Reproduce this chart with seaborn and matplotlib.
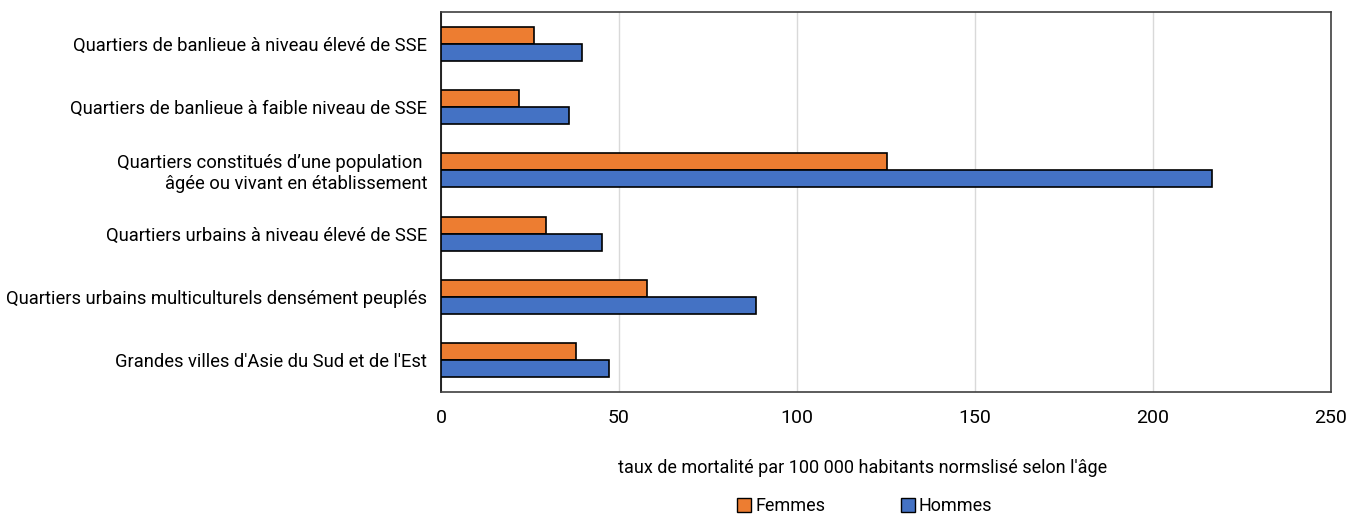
import matplotlib
matplotlib.use("Agg")
import matplotlib.pyplot as plt
import seaborn as sns
import pandas as pd
from matplotlib.patches import Patch

categories = [
    "Quartiers de banlieue à niveau élevé de SSE",
    "Quartiers de banlieue à faible niveau de SSE",
    "Quartiers constitués d’une population \nâgée ou vivant en établissement",
    "Quartiers urbains à niveau élevé de SSE",
    "Quartiers urbains multiculturels densément peuplés",
    "Grandes villes d'Asie du Sud et de l'Est",
]
femmes = [26.0, 21.8, 125.2, 29.4, 58.0, 37.9]
hommes = [39.5, 35.9, 216.6, 45.1, 88.4, 47.3]
series = ["Femmes", "Hommes"]
colors = ["#ED7D31", "#4472C4"]
xticks = [0, 50, 100, 150, 200, 250]
xlabel = "taux de mortalité par 100 000 habitants normslisé selon l'âge"

df = pd.DataFrame({
    "cat": categories * 2,
    "val": femmes + hommes,
    "sexe": [series[0]] * len(categories) + [series[1]] * len(categories),
})

sns.set_theme(style="white")
plt.rcParams["font.family"] = ["Roboto", "DejaVu Sans"]
plt.rcParams["text.color"] = "black"
plt.rcParams["xtick.color"] = "black"
plt.rcParams["ytick.color"] = "black"
plt.rcParams["axes.labelcolor"] = "black"

fig = plt.figure(figsize=(13.47, 5.16), dpi=100)
ax = fig.add_axes([0.3274, 0.2403, 0.6606, 0.7364])

sns.barplot(data=df, y="cat", x="val", hue="sexe", order=categories,
            hue_order=series, palette=colors, orient="h", width=0.54,
            saturation=1, edgecolor="black", linewidth=1.2, ax=ax,
            legend=False, zorder=3)

ax.set_xlim(0, 250)
ax.set_xticks(xticks)
ax.set_xticklabels([str(t) for t in xticks], fontsize=14)
ax.grid(axis="x", color="#d9d9d9", linewidth=1, zorder=0)
ax.set_axisbelow(True)
ax.set_ylabel("")
ax.set_xlabel(xlabel, fontsize=13)
ax.xaxis.set_label_coords(0.474, -0.175)
ax.tick_params(axis="y", labelsize=13.2, length=0, pad=10)
ax.tick_params(axis="x", length=0, pad=12)
for lab in ax.get_yticklabels():
    lab.set_horizontalalignment("right")
    lab.set_multialignment("right")
for s in ax.spines.values():
    s.set_visible(True)
    s.set_color("#404040")
    s.set_linewidth(1.2)
ax.spines["left"].set_color("black")

handles = [Patch(facecolor=c, edgecolor="black", linewidth=1) for c in colors]
fig.legend(handles, series, loc="lower center", bbox_to_anchor=(0.642, -0.03),
           ncol=2, frameon=False, fontsize=13, handlelength=0.8,
           handleheight=0.8, handletextpad=0.2, columnspacing=4.2)

fig.savefig("out.png", dpi=100)
